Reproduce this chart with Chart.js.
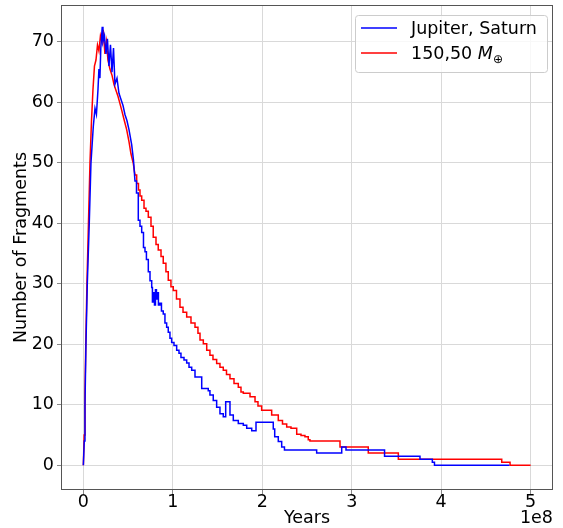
<!DOCTYPE html>
<html>
<head>
<meta charset="utf-8">
<script src="https://cdn.jsdelivr.net/npm/chart.js@4/dist/chart.umd.min.js"></script>
<style>
  html, body { margin: 0; padding: 0; background: #fff; }
  #wrap { width: 563px; height: 528px; }
</style>
</head>
<body>
<div id="wrap"><canvas id="grafico" width="563" height="528"></canvas></div>
<script>
// Tiempo en millones de años, numero de fragmentos
var blueT = [0, 1.0, 1.8, 2.9, 4.4, 6.6, 8.5, 11.1, 13.0, 14.6, 16.3, 17.4, 18.5, 19.5, 21.1, 21.9, 23.6, 25.3, 26.9, 28.6, 30.3,
  32, 33.7, 35.3, 37.6, 39.8, 42, 44.3, 46.5, 48.7, 51, 54, 56, 57.7, 59.4, 61.4, 63.3, 65.2, 67.2, 68.9, 70.5,
  72.6, 74.5, 76.4, 77.2, 78.4, 79.5, 80.6, 81.7, 82.8, 83.9, 85.6, 87.3, 89.3, 91.2, 93.1, 94.9, 96.8, 98.7, 101.3, 104.3,
  106.9, 109.1, 112.5, 115.5, 118.1, 121.1, 124.8, 132.3, 139.6, 141.5, 145.2, 149, 152.7, 156.4, 159.1, 163.9, 167.6, 173.2, 178.8, 182.6,
  188.2, 193, 212.3, 213.9, 217.9, 221.7, 224.8, 260.8, 288.8, 293.6, 336.7, 376.3, 390.1, 392.5, 476.2];
var blueY = [0, 4, 10, 20, 30, 40, 50, 56, 59, 58, 62, 65.5, 64, 69, 72.5, 70, 71, 68, 70.5, 66, 69.5,
  65, 69, 63, 64, 61.5, 60.5, 59.5, 58, 57, 55.5, 53, 50.5, 47, 45, 40.5, 39.5, 38.5, 36, 35.3, 34,
  32, 30.5, 29.4, 27, 28.5, 26.5, 29, 27.5, 28.5, 26.5, 26.8, 25.5, 25, 23.5, 22.8, 22, 21, 20.3, 19.8, 19,
  18.5, 17.8, 17.4, 16.9, 16.2, 15.7, 14.6, 12.7, 12.3, 11.6, 10.7, 9.6, 8.5, 8.0, 10.5, 8.3, 7.4, 6.9, 6.6, 6.1,
  5.7, 7.1, 6.0, 4.7, 3.9, 3.0, 2.5, 2.0, 3.0, 2.5, 1.5, 1.0, 0.5, 0, 0];

var redT = [0, 0.9, 1.8, 2.7, 4.0, 5.7, 7.4, 9.1, 10.7, 12.4, 14.1, 15.8, 17.4, 19.1, 20.8, 22.2, 24.1, 25.8, 27.5, 29.7,
  32, 34.2, 36.4, 38.7, 40.9, 43.2, 45.4, 48.4, 51, 53.2, 55.8, 57.7, 59.6, 61.6, 63.3, 65.2, 67.8, 70, 72.6, 75.6,
  78.1, 81.2, 83.7, 86.8, 89.3, 92.3, 94.9, 97.9, 100.5, 104.1, 108, 111.4, 115.5, 120.3, 124.8, 128.1, 130.4, 134.1, 137.9, 141.5,
  144.9, 149, 152.7, 156.4, 160, 163.9, 168.4, 173.2, 176.2, 178.8, 186.3, 191.9, 195.2, 199.3, 210.5, 217.9, 222.6, 227.3, 232.1, 238.5,
  243.3, 247.7, 251.4, 253.3, 286.9, 318.5, 352.1, 467.7, 477, 500];
var redY = [0, 5, 12, 20, 30, 40, 50, 57, 62, 66, 67, 69.5, 68.5, 71, 70, 72, 68, 70, 67, 65.5,
  64.5, 63, 62, 61, 59.8, 58.5, 57.2, 55.5, 53.5, 51.5, 49.9, 48, 46.6, 45.5, 44.5, 43.8, 42.5, 42, 41, 39.5,
  37.7, 36.5, 35.6, 34.5, 33.4, 32, 30.6, 29.5, 28.9, 27.5, 26.1, 25.3, 24.5, 23.5, 22.8, 21.8, 20.7, 20.1, 19, 18.2,
  17.5, 16.8, 16.2, 15.7, 15, 14.3, 13.5, 12.9, 12.1, 11.9, 11.3, 10.5, 9.8, 9.1, 8.3, 7.4, 6.8, 6.3, 6.1, 5.1,
  4.9, 4.7, 4.2, 4.0, 3.0, 2.0, 1.0, 0.5, 0, 0];

var xTicks = [0, 1e8, 2e8, 3e8, 4e8, 5e8];
var yTicks = [0, 10, 20, 30, 40, 50, 60, 70];

var fuente = 'DejaVu Sans';
var tamFuente = 17.5;
var colorGrid = '#d9d9d9';

// Pasa a años; despues de "desde" (Myr) el valor se mantiene hasta el siguiente punto
function puntos(t, y, desde) {
  var res = [];
  t.forEach(function (v, i) {
    if (i > 0 && v >= desde) {
      res.push({ x: v * 1e6, y: y[i - 1] });
    }
    res.push({ x: v * 1e6, y: y[i] });
  });
  return res;
}

// Marco de los ejes, leyenda y etiqueta 1e8
var extras = {
  id: 'extras',
  afterDraw: function (chart) {
    var ctx = chart.ctx;
    var a = chart.chartArea;
    ctx.save();
    ctx.strokeStyle = '#555';
    ctx.lineWidth = 1;
    ctx.strokeRect(a.left + 0.5, a.top + 0.5, a.right - a.left - 1, a.bottom - a.top - 1);

    // leyenda
    ctx.beginPath();
    ctx.roundRect(355.5, 15.5, 192, 57, 3);
    ctx.fillStyle = 'rgba(255,255,255,0.8)';
    ctx.fill();
    ctx.strokeStyle = '#cccccc';
    ctx.stroke();

    ctx.lineWidth = 1.5;
    ctx.strokeStyle = 'blue';
    ctx.beginPath(); ctx.moveTo(361, 28); ctx.lineTo(397, 28); ctx.stroke();
    ctx.strokeStyle = 'red';
    ctx.beginPath(); ctx.moveTo(361, 53); ctx.lineTo(397, 53); ctx.stroke();

    ctx.fillStyle = '#000';
    ctx.textBaseline = 'middle';
    ctx.textAlign = 'left';
    ctx.font = tamFuente + 'px "' + fuente + '"';
    ctx.fillText('Jupiter, Saturn', 411, 29);
    var txt = '150,50 ';
    ctx.fillText(txt, 411, 54);
    var x = 411 + ctx.measureText(txt).width;
    ctx.font = 'italic ' + tamFuente + 'px "' + fuente + '"';
    ctx.fillText('M', x, 54);
    x += ctx.measureText('M').width;
    ctx.font = '12px "' + fuente + '"';
    ctx.fillText('⊕', x, 60);

    // multiplicador del eje x
    ctx.font = tamFuente + 'px "' + fuente + '"';
    ctx.textAlign = 'right';
    ctx.fillText('1e8', a.right, 518);
    ctx.restore();
  }
};

var ctxGrafico = document.getElementById('grafico').getContext('2d');
new Chart(ctxGrafico, {
  type: 'line',
  data: {
    datasets: [{
      label: 'Jupiter, Saturn',
      data: puntos(blueT, blueY, 58),
      borderColor: 'blue',
      borderWidth: 1.5,
      pointRadius: 0,
      fill: false
    }, {
      label: '150,50 M⊕',
      data: puntos(redT, redY, 58),
      borderColor: 'red',
      borderWidth: 1.5,
      pointRadius: 0,
      fill: false
    }]
  },
  options: {
    responsive: false,
    animation: false,
    layout: { padding: { left: 0, right: 10, top: 5, bottom: 0 } },
    plugins: {
      legend: { display: false },
      tooltip: { enabled: false }
    },
    scales: {
      x: {
        type: 'linear',
        min: -2.5e7,
        max: 5.25e8,
        afterBuildTicks: function (s) { s.ticks = xTicks.map(function (v) { return { value: v }; }); },
        afterFit: function (s) { s.height = 38; s.paddingLeft = 0; s.paddingRight = 0; },
        ticks: {
          color: '#000',
          padding: -2,
          maxRotation: 0,
          font: { family: fuente, size: tamFuente },
          callback: function (v) { return String(v / 1e8); }
        },
        grid: { color: colorGrid, tickLength: 4, tickColor: '#888' },
        border: { display: false },
        title: {
          display: true,
          text: 'Years',
          color: '#000',
          padding: { top: 0, bottom: -1 },
          font: { family: fuente, size: tamFuente }
        }
      },
      y: {
        min: -4.1,
        max: 76.1,
        afterBuildTicks: function (s) { s.ticks = yTicks.map(function (v) { return { value: v }; }); },
        afterFit: function (s) { s.width = 61; s.paddingTop = 0; s.paddingBottom = 0; },
        ticks: {
          color: '#000',
          padding: 3,
          font: { family: fuente, size: tamFuente }
        },
        grid: { color: colorGrid, tickLength: 4, tickColor: '#888' },
        border: { display: false },
        title: {
          display: true,
          text: 'Number of Fragments',
          color: '#000',
          padding: { top: 11, bottom: 0 },
          font: { family: fuente, size: tamFuente }
        }
      }
    }
  },
  plugins: [extras]
});
</script>
</body>
</html>
